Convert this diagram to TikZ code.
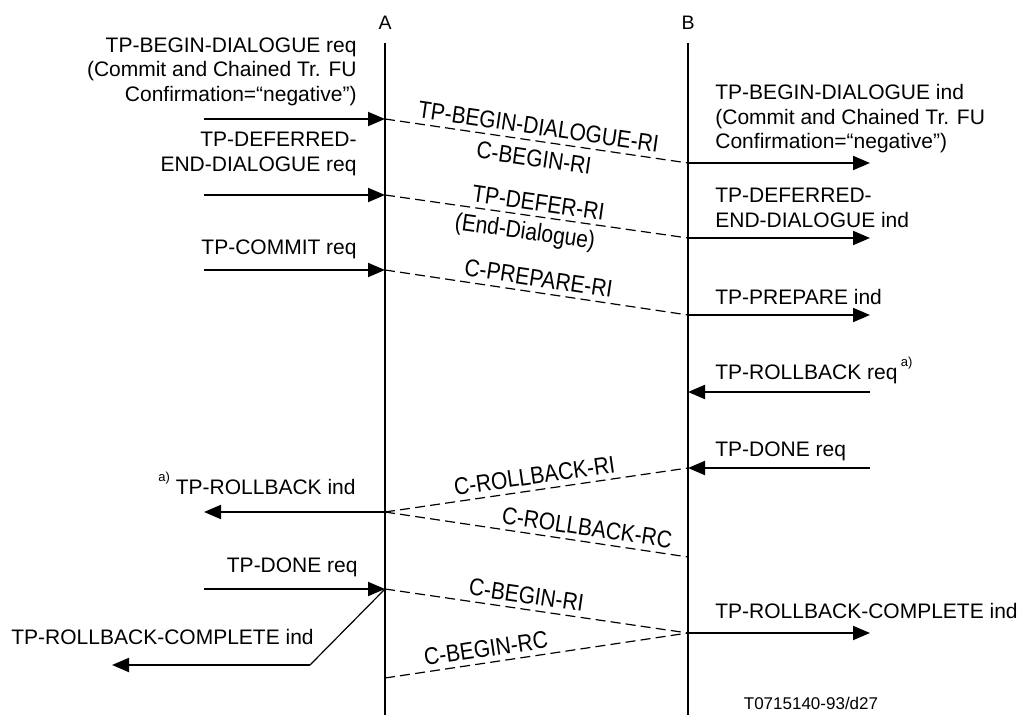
\documentclass[tikz,border=0pt]{standalone}
\usepackage{graphicx}
\usepackage{fontspec}
\setmainfont{Liberation Sans}
\usetikzlibrary{arrows.meta}
% raised footnote mark
\newcommand\supmark[1]{\raisebox{6.5pt}{\fontsize{6.5}{7}\selectfont #1}}
% slightly tall lettering for the labels on the PDU lines
\newcommand\pdutext[1]{\scalebox{1}[1.15]{#1}}
\begin{document}
\begin{tikzpicture}[x=0.5pt,y=-0.5pt,
  every node/.style={inner sep=0pt, font=\fontsize{10.5}{12.3}\selectfont},
  lifeline/.style={line width=1pt},
  prim/.style={line width=1pt, -{Triangle[length=8.5pt,width=7pt]}},
  link/.style={line width=0.6pt},
  pdu/.style={line width=0.6pt, dash pattern=on 5pt off 2.6pt},
  pdulabel/.style={sloped, inner sep=2.6pt},
  pdubelow/.style={sloped, inner sep=4pt, below},
  entity/.style={anchor=base, font=\fontsize{9.75}{11}\selectfont},
]
\useasboundingbox (0,0) rectangle (1018,715);

% entities and their lifelines
\node[entity] (A) at (385,30) {A};
\node[entity] (B) at (688,30) {B};
\coordinate (Atop) at (385,43);  \coordinate (Abot) at (385,715);
\coordinate (Btop) at (688,43);  \coordinate (Bbot) at (688,715);
\draw[lifeline] (Atop) -- (Abot);
\draw[lifeline] (Btop) -- (Bbot);

% event points on the lifelines
\coordinate (a1) at (385,119); \coordinate (b1) at (688,163);
\coordinate (a2) at (385,195); \coordinate (b2) at (688,238);
\coordinate (a3) at (385,270); \coordinate (b3) at (688,315);
\coordinate (b4) at (688,392);
\coordinate (b5) at (688,468);
\coordinate (a5) at (385,512); \coordinate (b6) at (688,557);
\coordinate (a7) at (385,589); \coordinate (b7) at (688,633);
\coordinate (a8) at (385,678);
\coordinate (k)  at (310,665);

% outer ends of the service primitives
\coordinate (l1) at (204,119); \coordinate (l2) at (204,195);
\coordinate (l3) at (204,270); \coordinate (l5) at (204,512);
\coordinate (l7) at (204,589); \coordinate (l8) at (112,665);
\coordinate (r1) at (870,163); \coordinate (r2) at (870,238);
\coordinate (r3) at (870,315); \coordinate (r4) at (870,392);
\coordinate (r5) at (870,468); \coordinate (r7) at (870,633);

% primitives at A
\node[anchor=north east, align=right] (t1) at (357,37)
  {TP-BEGIN-DIALOGUE req\\(Commit and Chained Tr. FU\\Confirmation=“negative”)};
\node[anchor=north east, align=right] (t2) at (357,132)
  {TP-DEFERRED-\\END-DIALOGUE req};
\node[anchor=base east] (t3) at (357,255) {TP-COMMIT req};
\node[anchor=base east] (t5) at (356,495) {\supmark{a)} TP-ROLLBACK ind};
\node[anchor=base east] (t7) at (358,573) {TP-DONE req};
\node[anchor=base west] (t8) at (11,645) {TP-ROLLBACK-COMPLETE ind};

\draw[prim] (l1) -- (a1);
\draw[prim] (l2) -- (a2);
\draw[prim] (l3) -- (a3);
\draw[prim] (a5) -- (l5);
\draw[prim] (l7) -- (a7);
\draw[link] (a7) -- (k);
\draw[prim] (k) -- (l8);

% primitives at B
\node[anchor=north west, align=left] (u1) at (715,84)
  {TP-BEGIN-DIALOGUE ind\\(Commit and Chained Tr. FU\\Confirmation=“negative”)};
\node[anchor=north west, align=left] (u2) at (715,188)
  {TP-DEFERRED-\\END-DIALOGUE ind};
\node[anchor=base west] (u3) at (715,305) {TP-PREPARE ind};
\node[anchor=base west] (u4) at (715,380) {TP-ROLLBACK req\,\supmark{a)}};
\node[anchor=base west] (u5) at (715,457) {TP-DONE req};
\node[anchor=base west] (u7) at (715,619) {TP-ROLLBACK-COMPLETE ind};

\draw[prim] (b1) -- (r1);
\draw[prim] (b2) -- (r2);
\draw[prim] (b3) -- (r3);
\draw[prim] (r4) -- (b4);
\draw[prim] (r5) -- (b5);
\draw[prim] (b7) -- (r7);

% protocol data units between A and B
\draw[pdu] (a1) -- (b1)
  node[pdulabel, midway, above] {\pdutext{TP-BEGIN-DIALOGUE-RI}}
  node[pdubelow, midway] {\pdutext{C-BEGIN-RI}};
\draw[pdu] (a2) -- (b2)
  node[pdulabel, midway, above] {\pdutext{TP-DEFER-RI}}
  node[pdubelow, pos=0.47, inner sep=3pt] {\pdutext{(End-Dialogue)}};
\draw[pdu] (a3) -- (b3)
  node[pdulabel, midway, above] {\pdutext{C-PREPARE-RI}};
\draw[pdu] (a5) -- (b5)
  node[pdulabel, midway, above] {\pdutext{C-ROLLBACK-RI}};
\draw[pdu] (a5) -- (b6)
  node[pdulabel, pos=0.66, above] {\pdutext{C-ROLLBACK-RC}};
\draw[pdu] (a7) -- (b7)
  node[pdulabel, pos=0.46, above] {\pdutext{C-BEGIN-RI}};
\draw[pdu] (a8) -- (b7)
  node[pdulabel, pos=0.34, above] {\pdutext{C-BEGIN-RC}};

% figure reference
\node[anchor=base, font=\fontsize{8.5}{10}\selectfont] (fig) at (811,710) {T0715140-93/d27};
\end{tikzpicture}
\end{document}
